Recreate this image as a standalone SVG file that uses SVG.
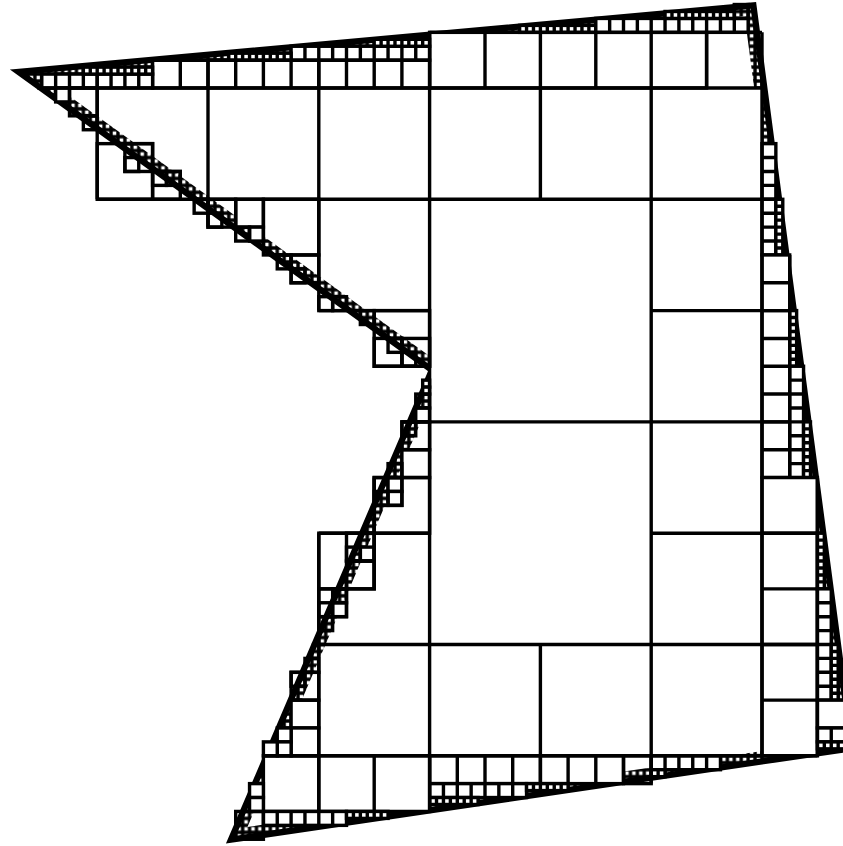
<svg xmlns="http://www.w3.org/2000/svg" width="843" height="846" viewBox="0 0 843 846">
<style>
.k{fill:none;stroke:#000;stroke-width:3.4}
.w{fill:#fff;stroke:#000;stroke-width:3.4}
.f{fill:#fff;stroke:none}
</style>
<defs>
<pattern id="pE" patternUnits="userSpaceOnUse" x="-14" y="-23" width="6.9375" height="6.9375">
<rect x="0" y="0" width="6.9375" height="6.9375" fill="#fff" stroke="#000" stroke-width="3.4"/>
</pattern>
</defs>
<rect width="843" height="846" fill="#fff"/>
<g transform="translate(208,88) scale(0.9982,1.0027) translate(-208,-88)">
<g id="band">
<polygon points="13,70.5 756,3.5 855,748 228,840 430,370" fill="#000" stroke="#000" stroke-width="2.5" stroke-linejoin="miter"/>
<polygon points="26.83,74.27 751.68,8.91 849.39,743.77 236.13,833.75 436.18,368.28" fill="url(#pE)"/>
<polygon points="46.19,79.56 745.62,16.48 841.54,737.85 247.5,825.01 444.83,365.88" fill="#fff"/>
</g>
<g id="fills">
<rect class="f" x="430" y="199" width="222" height="444"/>
<rect class="f" x="652" y="88" width="111" height="111"/>
</g>
<g id="strips">
<rect class="w" x="430" y="32.5" width="277.5" height="55.5"/>
<rect class="w" x="152.5" y="60.25" width="277.5" height="27.75"/>
<path class="k" d="M180.25,60.25v27.75m27.75,-27.75v27.75m27.75,-27.75v27.75m27.75,-27.75v27.75m27.75,-27.75v27.75m27.75,-27.75v27.75m27.75,-27.75v27.75m27.75,-27.75v27.75m27.75,-27.75v27.75"/>
<rect class="w" x="291.25" y="46.375" width="138.75" height="13.875"/>
<path class="k" d="M305.125,46.375v13.875m13.875,-13.875v13.875m13.875,-13.875v13.875m13.875,-13.875v13.875m13.875,-13.875v13.875m13.875,-13.875v13.875m13.875,-13.875v13.875m13.875,-13.875v13.875m13.875,-13.875v13.875"/>
<rect class="w" x="374.5" y="39.4375" width="55.5" height="6.9375"/>
<path class="k" d="M381.4375,39.4375v6.9375m6.9375,-6.9375v6.9375m6.9375,-6.9375v6.9375m6.9375,-6.9375v6.9375m6.9375,-6.9375v6.9375m6.9375,-6.9375v6.9375m6.9375,-6.9375v6.9375"/>
<rect class="w" x="228.8125" y="53.3125" width="62.4375" height="6.9375"/>
<path class="k" d="M235.75,53.3125v6.9375m6.9375,-6.9375v6.9375m6.9375,-6.9375v6.9375m6.9375,-6.9375v6.9375m6.9375,-6.9375v6.9375m6.9375,-6.9375v6.9375m6.9375,-6.9375v6.9375m6.9375,-6.9375v6.9375"/>
<rect class="w" x="520.1875" y="25.5625" width="76.3125" height="6.9375"/>
<path class="k" d="M527.125,25.5625v6.9375m6.9375,-6.9375v6.9375m6.9375,-6.9375v6.9375m6.9375,-6.9375v6.9375m6.9375,-6.9375v6.9375m6.9375,-6.9375v6.9375m6.9375,-6.9375v6.9375m6.9375,-6.9375v6.9375m6.9375,-6.9375v6.9375m6.9375,-6.9375v6.9375"/>
<rect class="w" x="596.5" y="18.625" width="152.625" height="13.875"/>
<path class="k" d="M610.375,18.625v13.875m13.875,-13.875v13.875m13.875,-13.875v13.875m13.875,-13.875v13.875m13.875,-13.875v13.875m13.875,-13.875v13.875m13.875,-13.875v13.875m13.875,-13.875v13.875m13.875,-13.875v13.875m13.875,-13.875v13.875"/>
<rect class="w" x="665.875" y="11.6875" width="69.375" height="6.9375"/>
<path class="k" d="M672.8125,11.6875v6.9375m6.9375,-6.9375v6.9375m6.9375,-6.9375v6.9375m6.9375,-6.9375v6.9375m6.9375,-6.9375v6.9375m6.9375,-6.9375v6.9375m6.9375,-6.9375v6.9375m6.9375,-6.9375v6.9375m6.9375,-6.9375v6.9375"/>
<rect class="w" x="41.5" y="74.125" width="111" height="13.875"/>
<path class="k" d="M55.375,74.125v13.875m13.875,-13.875v13.875m13.875,-13.875v13.875m13.875,-13.875v13.875m13.875,-13.875v13.875m13.875,-13.875v13.875m13.875,-13.875v13.875"/>
<rect class="w" x="83.125" y="67.1875" width="69.375" height="6.9375"/>
<path class="k" d="M90.0625,67.1875v6.9375m6.9375,-6.9375v6.9375m6.9375,-6.9375v6.9375m6.9375,-6.9375v6.9375m6.9375,-6.9375v6.9375m6.9375,-6.9375v6.9375m6.9375,-6.9375v6.9375m6.9375,-6.9375v6.9375m6.9375,-6.9375v6.9375"/>
<rect class="w" x="763" y="143.5" width="13.875" height="111"/>
<path class="k" d="M763,157.375h13.875m-13.875,13.875h13.875m-13.875,13.875h13.875m-13.875,13.875h13.875m-13.875,13.875h13.875m-13.875,13.875h13.875m-13.875,13.875h13.875"/>
<rect class="w" x="776.875" y="199" width="6.9375" height="55.5"/>
<path class="k" d="M776.875,205.9375h6.9375m-6.9375,6.9375h6.9375m-6.9375,6.9375h6.9375m-6.9375,6.9375h6.9375m-6.9375,6.9375h6.9375m-6.9375,6.9375h6.9375m-6.9375,6.9375h6.9375"/>
<rect class="w" x="763" y="254.5" width="27.75" height="222"/>
<path class="k" d="M763,282.25h27.75m-27.75,27.75h27.75m-27.75,27.75h27.75m-27.75,27.75h27.75m-27.75,27.75h27.75m-27.75,27.75h27.75m-27.75,27.75h27.75"/>
<rect class="w" x="790.75" y="310" width="6.9375" height="55.5"/>
<path class="k" d="M790.75,316.9375h6.9375m-6.9375,6.9375h6.9375m-6.9375,6.9375h6.9375m-6.9375,6.9375h6.9375m-6.9375,6.9375h6.9375m-6.9375,6.9375h6.9375m-6.9375,6.9375h6.9375"/>
<rect class="w" x="790.75" y="365.5" width="13.875" height="111"/>
<path class="k" d="M790.75,379.375h13.875m-13.875,13.875h13.875m-13.875,13.875h13.875m-13.875,13.875h13.875m-13.875,13.875h13.875m-13.875,13.875h13.875m-13.875,13.875h13.875"/>
<rect class="w" x="804.625" y="421" width="6.9375" height="55.5"/>
<path class="k" d="M804.625,427.9375h6.9375m-6.9375,6.9375h6.9375m-6.9375,6.9375h6.9375m-6.9375,6.9375h6.9375m-6.9375,6.9375h6.9375m-6.9375,6.9375h6.9375m-6.9375,6.9375h6.9375"/>
<rect class="w" x="763" y="476.5" width="55.5" height="277.5"/>
<path class="k" d="M763,532h55.5m-55.5,55.5h55.5m-55.5,55.5h55.5m-55.5,55.5h55.5"/>
<rect class="w" x="818.5" y="532" width="6.9375" height="55.5"/>
<path class="k" d="M818.5,538.9375h6.9375m-6.9375,6.9375h6.9375m-6.9375,6.9375h6.9375m-6.9375,6.9375h6.9375m-6.9375,6.9375h6.9375m-6.9375,6.9375h6.9375m-6.9375,6.9375h6.9375"/>
<rect class="w" x="818.5" y="587.5" width="13.875" height="111"/>
<path class="k" d="M818.5,601.375h13.875m-13.875,13.875h13.875m-13.875,13.875h13.875m-13.875,13.875h13.875m-13.875,13.875h13.875m-13.875,13.875h13.875m-13.875,13.875h13.875"/>
<rect class="w" x="832.375" y="643" width="6.9375" height="55.5"/>
<path class="k" d="M832.375,649.9375h6.9375m-6.9375,6.9375h6.9375m-6.9375,6.9375h6.9375m-6.9375,6.9375h6.9375m-6.9375,6.9375h6.9375m-6.9375,6.9375h6.9375m-6.9375,6.9375h6.9375"/>
<rect class="w" x="818.5" y="698.5" width="27.75" height="27.75"/>
<rect class="w" x="818.5" y="726.25" width="27.75" height="13.875"/>
<path class="k" d="M832.375,726.25v13.875"/>
<rect class="w" x="818.5" y="740.125" width="27.75" height="6.9375"/>
<path class="k" d="M825.4375,740.125v6.9375m6.9375,-6.9375v6.9375m6.9375,-6.9375v6.9375"/>
<rect class="w" x="430" y="754" width="194.25" height="27.75"/>
<path class="k" d="M457.75,754v27.75m27.75,-27.75v27.75m27.75,-27.75v27.75m27.75,-27.75v27.75m27.75,-27.75v27.75m27.75,-27.75v27.75"/>
<rect class="w" x="430" y="781.75" width="97.125" height="13.875"/>
<path class="k" d="M443.875,781.75v13.875m13.875,-13.875v13.875m13.875,-13.875v13.875m13.875,-13.875v13.875m13.875,-13.875v13.875m13.875,-13.875v13.875"/>
<rect class="w" x="430" y="795.625" width="48.5625" height="6.9375"/>
<path class="k" d="M436.9375,795.625v6.9375m6.9375,-6.9375v6.9375m6.9375,-6.9375v6.9375m6.9375,-6.9375v6.9375m6.9375,-6.9375v6.9375m6.9375,-6.9375v6.9375"/>
<rect class="w" x="527.125" y="781.75" width="41.625" height="6.9375"/>
<path class="k" d="M534.0625,781.75v6.9375m6.9375,-6.9375v6.9375m6.9375,-6.9375v6.9375m6.9375,-6.9375v6.9375m6.9375,-6.9375v6.9375"/>
<rect class="w" x="652" y="754" width="69.375" height="13.875"/>
<path class="k" d="M665.875,754v13.875m13.875,-13.875v13.875m13.875,-13.875v13.875m13.875,-13.875v13.875"/>
<rect class="w" x="652" y="767.875" width="13.875" height="6.9375"/>
<path class="k" d="M658.9375,767.875v6.9375"/>
<rect class="w" x="263.5" y="754" width="166.5" height="55.5"/>
<path class="k" d="M319,754v55.5m55.5,-55.5v55.5"/>
<rect class="w" x="263.5" y="809.5" width="83.25" height="13.875"/>
<path class="k" d="M277.375,809.5v13.875m13.875,-13.875v13.875m13.875,-13.875v13.875m13.875,-13.875v13.875m13.875,-13.875v13.875"/>
<rect class="w" x="346.75" y="809.5" width="41.625" height="6.9375"/>
<path class="k" d="M353.6875,809.5v6.9375m6.9375,-6.9375v6.9375m6.9375,-6.9375v6.9375m6.9375,-6.9375v6.9375m6.9375,-6.9375v6.9375"/>
</g>
<g id="inner-cells">
<rect class="w" x="55.375" y="88" width="13.875" height="13.875"/>
<rect class="w" x="235.75" y="199" width="27.75" height="27.75"/>
<rect class="w" x="249.625" y="226.75" width="13.875" height="13.875"/>
<rect class="w" x="423.0625" y="379.375" width="6.9375" height="6.9375"/>
<rect class="w" x="423.0625" y="386.3125" width="6.9375" height="6.9375"/>
<rect class="w" x="416.125" y="407.125" width="13.875" height="13.875"/>
<rect class="w" x="402.25" y="448.75" width="27.75" height="27.75"/>
<rect class="w" x="388.375" y="476.5" width="13.875" height="13.875"/>
<rect class="w" x="388.375" y="490.375" width="13.875" height="13.875"/>
<rect class="w" x="360.625" y="545.875" width="13.875" height="13.875"/>
<rect class="w" x="332.875" y="601.375" width="13.875" height="13.875"/>
<rect class="w" x="291.25" y="698.5" width="27.75" height="27.75"/>
<rect class="w" x="291.25" y="726.25" width="27.75" height="27.75"/>
<rect class="w" x="277.375" y="726.25" width="13.875" height="13.875"/>
<rect class="w" x="277.375" y="740.125" width="13.875" height="13.875"/>
<rect class="w" x="263.5" y="740.125" width="13.875" height="13.875"/>
<rect class="w" x="249.625" y="781.75" width="13.875" height="13.875"/>
<rect class="w" x="249.625" y="795.625" width="13.875" height="13.875"/>
</g>
<g id="edge-cells" class="k">
<rect x="69.25" y="88" width="27.75" height="27.75"/>
<rect x="83.125" y="115.75" width="13.875" height="13.875"/>
<rect x="97" y="143.5" width="55.5" height="55.5"/>
<rect x="124.75" y="143.5" width="27.75" height="27.75"/>
<rect x="124.75" y="157.375" width="13.875" height="13.875"/>
<rect x="152.5" y="171.25" width="27.75" height="27.75"/>
<rect x="152.5" y="171.25" width="13.875" height="13.875"/>
<rect x="166.375" y="171.25" width="13.875" height="13.875"/>
<rect x="194.125" y="199" width="13.875" height="13.875"/>
<rect x="208" y="199" width="27.75" height="27.75"/>
<rect x="208" y="212.875" width="13.875" height="13.875"/>
<rect x="235.75" y="226.75" width="13.875" height="13.875"/>
<rect x="263.5" y="199" width="55.5" height="55.5"/>
<rect x="277.375" y="254.5" width="13.875" height="13.875"/>
<rect x="291.25" y="254.5" width="27.75" height="27.75"/>
<rect x="291.25" y="268.375" width="13.875" height="13.875"/>
<rect x="319" y="296.125" width="13.875" height="13.875"/>
<rect x="332.875" y="296.125" width="13.875" height="13.875"/>
<rect x="360.625" y="310" width="13.875" height="13.875"/>
<rect x="374.5" y="310" width="55.5" height="55.5"/>
<rect x="374.5" y="337.75" width="27.75" height="27.75"/>
<rect x="388.375" y="337.75" width="13.875" height="13.875"/>
<rect x="402.25" y="337.75" width="27.75" height="27.75"/>
<rect x="402.25" y="351.625" width="13.875" height="13.875"/>
<rect x="416.125" y="393.25" width="13.875" height="13.875"/>
<rect x="402.25" y="421" width="27.75" height="27.75"/>
<rect x="402.25" y="421" width="13.875" height="13.875"/>
<rect x="388.375" y="462.625" width="13.875" height="13.875"/>
<rect x="374.5" y="476.5" width="55.5" height="55.5"/>
<rect x="374.5" y="476.5" width="27.75" height="27.75"/>
<rect x="374.5" y="490.375" width="13.875" height="13.875"/>
<rect x="319" y="532" width="55.5" height="55.5"/>
<rect x="346.75" y="532" width="27.75" height="27.75"/>
<rect x="346.75" y="545.875" width="13.875" height="13.875"/>
<rect x="346.75" y="559.75" width="27.75" height="27.75"/>
<rect x="319" y="587.5" width="27.75" height="27.75"/>
<rect x="332.875" y="587.5" width="13.875" height="13.875"/>
<rect x="319" y="601.375" width="13.875" height="13.875"/>
<rect x="319" y="615.25" width="13.875" height="13.875"/>
<rect x="305.125" y="656.875" width="13.875" height="13.875"/>
<rect x="291.25" y="670.75" width="27.75" height="27.75"/>
<rect x="291.25" y="670.75" width="13.875" height="13.875"/>
<rect x="235.75" y="809.5" width="27.75" height="27.75"/>
<rect x="624.25" y="754" width="27.75" height="27.75"/>
<rect x="735.25" y="4.75" width="13.875" height="13.875"/>
</g>
<g id="grid">
<path class="k" d="M37,88H763M97,199H776.875M319,310H430M652,310H790.75M402.25,421H790.75M319,532H430M652,532H818.5M312,643H818.5M264,754H818.5M430,32.5H763M152.5,60.25H430M97,74.125V199M208,60.25V226.75M319,60.25V310M319,532V809.5M430,32.5V809.5M541,32.5V199M541,643V781.75M652,32.5V781.75M763,32.5V754M818.5,476.5V754M485.5,32.5V88M596.5,32.5V88M707.5,32.5V88M374.5,476.5V587.5M790.75,254.5V476.5"/>
</g>
</g>
</svg>
